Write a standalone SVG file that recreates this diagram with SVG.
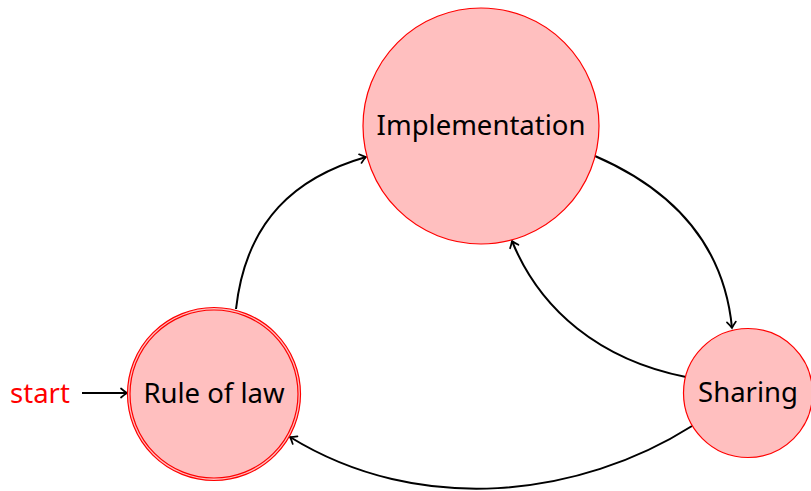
<svg xmlns="http://www.w3.org/2000/svg" width="811" height="491" viewBox="0 0 811 491">
<defs>
<style>
.node{fill:#ffbfbf;stroke:#ff0000;stroke-width:1.2}
.lbl{font-family:"Noto Sans","Open Sans",sans-serif;font-size:27.5px;fill:#000;text-anchor:middle}
.edge{fill:none;stroke:#000;stroke-width:2;marker-end:url(#arr)}
</style>
<marker id="arr" markerUnits="userSpaceOnUse" viewBox="-10 -6 12 12" refX="0" refY="0" markerWidth="12" markerHeight="12" orient="auto">
<path d="M-6,-4.5 Q-2.5,-1.5 0,0 Q-2.5,1.5 -6,4.5" fill="none" stroke="#000" stroke-width="1.7" stroke-linecap="round"/>
</marker>
</defs>
<rect width="811" height="491" fill="#fff"/>
<g id="edges">
<path class="edge" d="M236,309 C246,220 296,177 366,157"/>
<path class="edge" d="M595,156 C685,195 725,255 732,328"/>
<path class="edge" d="M686,377 C600,360 540,310 512,241"/>
<path class="edge" d="M692,426 C580,497 420,517 290,437"/>
<path class="edge" d="M82,393 L127,393"/>
</g>
<g id="implementation">
<circle class="node" cx="481" cy="126" r="118"/>
<text class="lbl" x="481" y="135">Implementation</text>
</g>
<g id="rule-of-law">
<circle class="node" cx="214" cy="394" r="86.5"/>
<circle class="node" cx="214" cy="394" r="84"/>
<text class="lbl" x="214" y="403">Rule of law</text>
</g>
<g id="sharing">
<circle class="node" cx="748" cy="393" r="64.5"/>
<text class="lbl" x="748" y="402">Sharing</text>
</g>
<g id="start">
<text x="40" y="403" style="font-family:'Noto Sans','Open Sans',sans-serif;font-size:27.5px;fill:#ff0000;text-anchor:middle">start</text>
</g>
</svg>
